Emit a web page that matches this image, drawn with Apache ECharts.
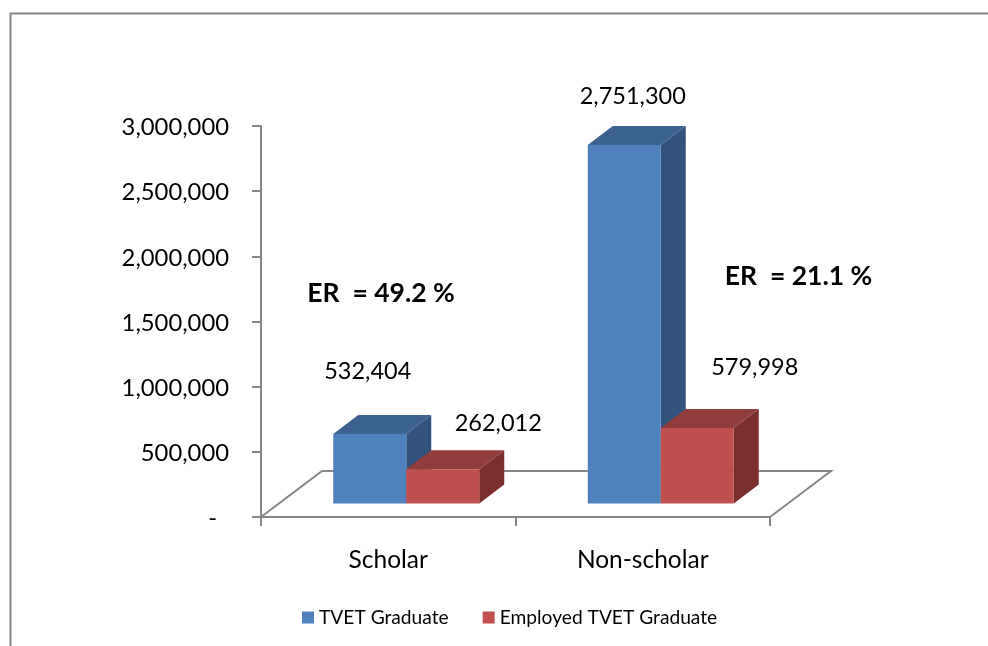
<!DOCTYPE html>
<html>
<head>
<meta charset="utf-8">
<style>html,body{margin:0;padding:0;background:#fff}#c{width:988px;height:646px}</style>
<script src="https://cdn.jsdelivr.net/npm/echarts@6/dist/echarts.min.js"></script>
</head>
<body>
<div id="c"></div>
<script>
var categories = ['Scholar', 'Non-scholar'];
var seriesNames = ['TVET Graduate', 'Employed TVET Graduate'];
var tvetGraduate = [532404, 2751300];
var employedGraduate = [262012, 579998];
var erLabels = ['ER  = 49.2 %', 'ER  = 21.1 %'];

var FONT = 'Lato, "Open Sans", sans-serif';
var AXIS = '#868686';
var depthX = 25, depthY = 19, floorX = 61, floorY = 46;
var barShare = 73 / 254.5;
var valueOffsets = [
  [[-2, -63], [8.5, -48]],
  [[55.5, -45.5], [57.5, -60]]
];
var palettes = [
  {front: '#4F81BD', top: '#3C628F', side: '#30527B'},
  {front: '#C0504D', top: '#913D3B', side: '#7B2F2D'}
];

function fmt(v) { return Math.round(v).toString().replace(/\B(?=(\d{3})+$)/g, ','); }

function floorItem(params, api) {
  var c = api.coord([0, 0]);
  var band = api.size([1, 0])[0];
  var x0 = c[0] - band / 2, x1 = x0 + band * 2, y = c[1];
  return {
    type: 'polyline',
    shape: {points: [[x0, y], [x0 + floorX, y - floorY], [x1 + floorX, y - floorY], [x1, y]]},
    style: {stroke: AXIS, fill: null, lineWidth: 2},
    silent: true
  };
}

function barRenderer(seriesIndex) {
  return function (params, api) {
    var p = palettes[seriesIndex];
    var band = api.size([1, 0])[0];
    var w = band * barShare;
    var top0 = api.coord([api.value(0), api.value(1)]);
    var base0 = api.coord([api.value(0), 0]);
    var ox = (floorX - depthX) / 2, oy = (floorY - depthY) / 2;
    var x0 = top0[0] + ox + (seriesIndex === 0 ? -w : 0);
    var x1 = x0 + w;
    var t = top0[1] - oy, b = base0[1] - oy;
    var off = valueOffsets[seriesIndex][params.dataIndex];
    return {
      type: 'group',
      children: [
        {type: 'polygon', shape: {points: [[x1, t], [x1 + depthX, t - depthY], [x1 + depthX, b - depthY], [x1, b]]}, style: {fill: p.side}},
        {type: 'polygon', shape: {points: [[x0, t], [x0 + depthX, t - depthY], [x1 + depthX, t - depthY], [x1, t]]}, style: {fill: p.top}},
        {type: 'rect', shape: {x: x0, y: t, width: w, height: b - t}, style: {fill: p.front}},
        {type: 'text', style: {
          x: (x0 + x1) / 2 + off[0], y: t + off[1],
          text: fmt(api.value(1)), align: 'center', verticalAlign: 'middle',
          font: '23.5px ' + FONT, fill: '#000'
        }}
      ]
    };
  };
}

function rows(values) { return values.map(function (v, i) { return [i, v]; }); }

var chart = echarts.init(document.getElementById('c'), null, {renderer: 'canvas'});
chart.setOption({
  animation: false,
  backgroundColor: '#fff',
  grid: {left: 261, top: 126, width: 509, height: 391, containLabel: false},
  legend: {
    left: 302, top: 608, padding: 0, itemWidth: 12, itemHeight: 12, itemGap: 34, icon: 'rect',
    data: seriesNames,
    textStyle: {fontFamily: FONT, fontSize: 19.2, color: '#000'}
  },
  xAxis: {
    type: 'category', data: categories,
    axisLine: {lineStyle: {color: AXIS, width: 2}},
    axisTick: {show: true, length: 9, lineStyle: {color: AXIS, width: 2}},
    axisLabel: {fontFamily: FONT, fontSize: 24.5, color: '#000', margin: 31}
  },
  yAxis: {
    type: 'value', min: 0, max: 3000000, interval: 500000,
    splitLine: {show: false},
    axisLine: {show: true, lineStyle: {color: AXIS, width: 2}},
    axisTick: {show: true, length: 9, lineStyle: {color: AXIS, width: 2}},
    axisLabel: {
      fontFamily: FONT, fontSize: 23.8, color: '#000', margin: 32,
      verticalAlign: 'middle', padding: [3, 0, 0, 0],
      formatter: function (v) { return v === 0 ? '{dash|-}' : fmt(v); },
      rich: {dash: {fontFamily: FONT, fontSize: 23.8, color: '#000', padding: [0, 12, 0, 0]}}
    }
  },
  series: [
    {type: 'custom', name: 'floor', renderItem: floorItem, data: [[0, 0]], z: 1, silent: true, encode: {x: 0, y: 1}, tooltip: {show: false}},
    {type: 'custom', name: seriesNames[0], renderItem: barRenderer(0), data: rows(tvetGraduate), z: 2, itemStyle: {color: palettes[0].front}, encode: {x: 0, y: 1}},
    {type: 'custom', name: seriesNames[1], renderItem: barRenderer(1), data: rows(employedGraduate), z: 3, itemStyle: {color: palettes[1].front}, encode: {x: 0, y: 1}}
  ],
  graphic: [
    {type: 'polyline', shape: {points: [[10.5, 646], [10.5, 13.5], [988, 13.5]]}, style: {stroke: AXIS, fill: null, lineWidth: 2}, silent: true},
    {type: 'text', x: 381, y: 293, style: {text: erLabels[0], align: 'center', verticalAlign: 'middle', font: 'bold 26.5px ' + FONT, fill: '#000'}},
    {type: 'text', x: 798.5, y: 276, style: {text: erLabels[1], align: 'center', verticalAlign: 'middle', font: 'bold 26.5px ' + FONT, fill: '#000'}}
  ]
});
</script>
</body>
</html>
